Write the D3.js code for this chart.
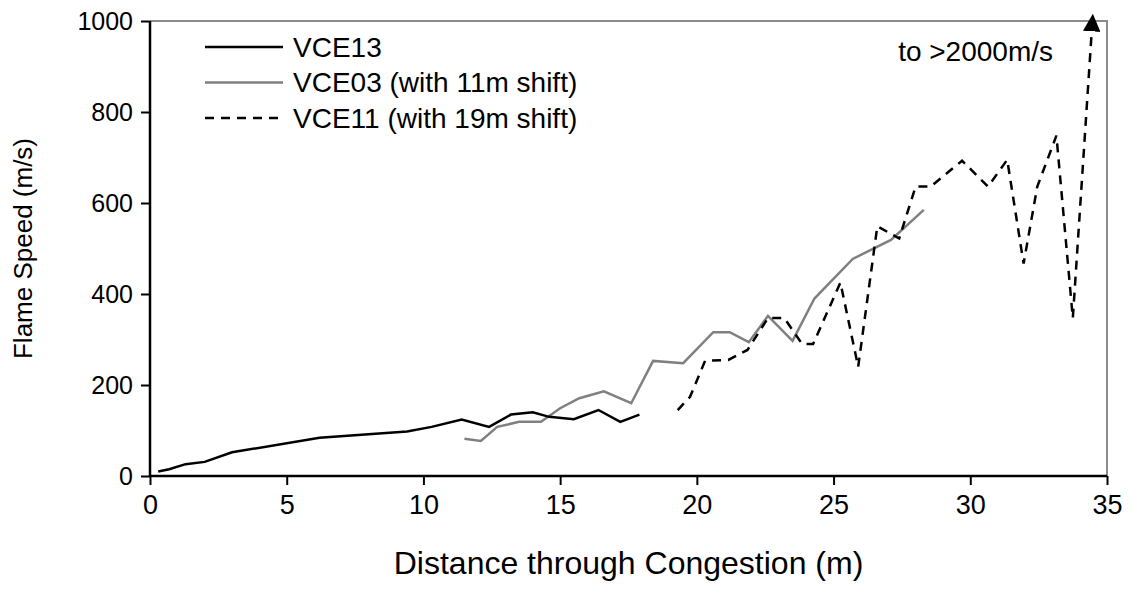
<!DOCTYPE html>
<html>
<head>
<meta charset="utf-8">
<script src="https://cdn.jsdelivr.net/npm/d3@7"></script>
<style>
  html, body { margin: 0; padding: 0; background: #fff; }
  svg { display: block; font-family: "Liberation Sans", Arial, sans-serif; }
</style>
</head>
<body>
<svg id="chart" width="1134" height="590"></svg>
<script>
// ---- data ----
const vce13X = [0.3, 0.7, 1.3, 2.0, 3.0, 6.2, 9.4, 10.3, 11.4, 12.4, 13.2, 14.0, 14.6, 15.5, 16.4, 17.2, 17.9];
const vce13Y = [10, 15, 26, 31, 52, 84, 98, 108, 124, 108, 135, 140, 130, 125, 145, 119, 135];

const vce03X = [11.5, 12.1, 12.7, 13.5, 14.3, 15.0, 15.7, 16.6, 17.6, 18.4, 19.5, 20.6, 21.2, 21.9, 22.6, 23.5, 24.3, 25.7, 27.1, 28.3];
const vce03Y = [82, 77, 108, 119, 119, 149, 171, 186, 160, 253, 248, 316, 316, 294, 352, 297, 390, 477, 519, 585];

const vce11X = [19.3, 19.75, 20.3, 21.15, 21.85, 22.6, 23.2, 23.85, 24.25, 25.25, 25.9, 26.6, 27.4, 28.0, 28.55, 29.7, 30.65, 31.35, 31.95, 32.45, 33.15, 33.75, 34.45];
const vce11Y = [145, 174, 253, 255, 277, 347, 347, 290, 290, 425, 240, 549, 522, 636, 636, 693, 636, 695, 467, 636, 748, 347, 985];

const xTicks = [0, 5, 10, 15, 20, 25, 30, 35];
const yTicks = [0, 200, 400, 600, 800, 1000];

const seriesNames = ["VCE13", "VCE03 (with 11m shift)", "VCE11 (with 19m shift)"];
const annotationText = "to >2000m/s";
const xTitle = "Distance through Congestion (m)";
const yTitle = "Flame Speed (m/s)";

// ---- layout ----
const L = 150, R = 1107, T = 21, B = 476;
const FONT = '"Liberation Sans", Arial, sans-serif';
const svg = d3.select("#chart");

const x = d3.scaleLinear().domain([0, 35]).range([L, R]);
const y = d3.scaleLinear().domain([0, 1000]).range([B, T]);

// plot border (top/right grey)
svg.append("path")
  .attr("d", `M${L},${T}H${R}V${B}`)
  .attr("fill", "none").attr("stroke", "#8c8c8c").attr("stroke-width", 2);

// axes
const xAxis = svg.append("g").attr("transform", `translate(0,${B})`)
  .call(d3.axisBottom(x).tickValues(xTicks).tickSize(9).tickPadding(10).tickFormat(d3.format("d")));
const yAxis = svg.append("g").attr("transform", `translate(${L},0)`)
  .call(d3.axisLeft(y).tickValues(yTicks).tickSize(9).tickPadding(8).tickFormat(d3.format("d")));
[xAxis, yAxis].forEach(g => {
  g.select(".domain").attr("stroke", "#000").attr("stroke-width", 2.5);
  g.selectAll(".tick line").attr("stroke", "#000").attr("stroke-width", 2);
  g.selectAll(".tick text").attr("fill", "#000").style("font-family", FONT);
});
xAxis.selectAll(".tick text").style("font-size", "27px");
yAxis.selectAll(".tick text").style("font-size", "25px");
yAxis.select(".domain").attr("d", `M0,${B}V${T}`);
xAxis.select(".domain").attr("d", `M${L},0H${R}`);

// titles
svg.append("text").attr("x", (L + R) / 2).attr("y", 574)
  .attr("text-anchor", "middle").style("font-size", "32px").text(xTitle);
svg.append("text").attr("transform", `translate(23,${(T + B) / 2}) rotate(-90)`)
  .attr("text-anchor", "middle").attr("dy", "0.35em").style("font-size", "26px").text(yTitle);

// arrow marker
svg.append("defs").append("marker")
  .attr("id", "arrow").attr("viewBox", "0 0 10 10")
  .attr("refX", 2).attr("refY", 5)
  .attr("markerWidth", 7).attr("markerHeight", 7).attr("markerUnits", "strokeWidth")
  .attr("orient", "auto")
  .append("path").attr("d", "M0,0L10,5L0,10Z").attr("fill", "#000");

const line = d3.line().x(d => x(d[0])).y(d => y(d[1]));
const zip = (a, b) => a.map((v, i) => [v, b[i]]);

svg.append("path").datum(zip(vce03X, vce03Y)).attr("d", line)
  .attr("fill", "none").attr("stroke", "#808080").attr("stroke-width", 2.5);
svg.append("path").datum(zip(vce13X, vce13Y)).attr("d", line)
  .attr("fill", "none").attr("stroke", "#000").attr("stroke-width", 2.5);
svg.append("path").datum(zip(vce11X, vce11Y)).attr("d", line)
  .attr("fill", "none").attr("stroke", "#000").attr("stroke-width", 2.5)
  .attr("stroke-dasharray", "9,7").attr("marker-end", "url(#arrow)");

// legend
const legend = [
  { name: seriesNames[0], color: "#000", dash: null },
  { name: seriesNames[1], color: "#808080", dash: null },
  { name: seriesNames[2], color: "#000", dash: "9,7" }
];
const lg = svg.append("g");
legend.forEach((d, i) => {
  const yy = 47 + i * 35.5;
  lg.append("line").attr("x1", 205).attr("x2", 283).attr("y1", yy).attr("y2", yy)
    .attr("stroke", d.color).attr("stroke-width", 2.5)
    .attr("stroke-dasharray", d.dash);
  lg.append("text").attr("x", 293).attr("y", yy).attr("dy", "0.35em")
    .style("font-size", "28px").text(d.name);
});

// annotation
svg.append("text").attr("x", 1053).attr("y", 61).attr("text-anchor", "end")
  .style("font-size", "28px").text(annotationText);
</script>
</body>
</html>
